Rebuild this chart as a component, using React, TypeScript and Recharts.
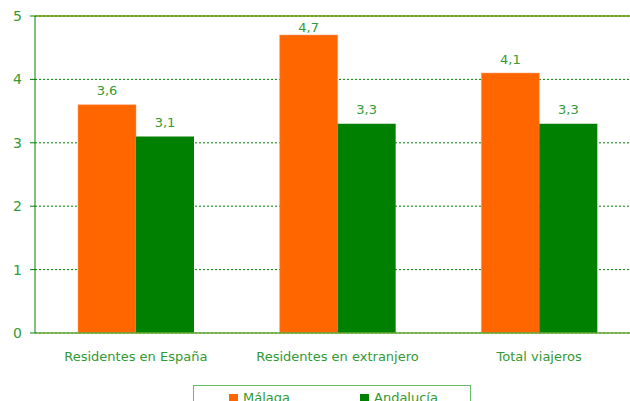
import React from 'react';
import { BarChart, Bar, XAxis, YAxis, CartesianGrid, LabelList, ReferenceLine } from 'recharts';

const categories = ['Residentes en España', 'Residentes en extranjero', 'Total viajeros'];
const malaga = [3.6, 4.7, 4.1];
const andalucia = [3.1, 3.3, 3.3];
const yTicks = [0, 1, 2, 3, 4, 5];
const seriesNames = ['Málaga', 'Andalucía'];
const seriesColors = ['#ff6600', '#008000'];

const data = categories.map((name, i) => ({ name, malaga: malaga[i], andalucia: andalucia[i] }));

const font = '"DejaVu Sans", Verdana, sans-serif';
const textColor = '#339933';
const fmt = (v: any) => String(v).replace('.', ',');

// value label above a bar, kept clear of the top border line
const ValueLabel = (props: any) => {
  const { x, y, width, value } = props;
  const ty = Math.max(y - 14, 27);
  return (
    <text x={x + width / 2} y={ty} textAnchor="middle" dominantBaseline="central" fill={textColor} fontSize={13} fontFamily={font}>
      {fmt(value)}
    </text>
  );
};

export default function App() {
  return (
    <div style={{ position: 'fixed', left: 0, top: 0, width: 630, height: 401, overflow: 'hidden', background: '#fff', fontFamily: font }}>
      <BarChart
        width={640}
        height={380}
        data={data}
        margin={{ top: 16, right: 0, left: 0, bottom: 0 }}
        barCategoryGap={43}
        barGap={0}
      >
        <CartesianGrid vertical={false} stroke="#008000" strokeDasharray="2 2" />
        <ReferenceLine y={5} stroke="#669900" strokeWidth={1.5} />
        <XAxis
          dataKey="name"
          height={47}
          tickLine={false}
          axisLine={{ stroke: '#66aa33', strokeWidth: 1.5 }}
          tick={{ fill: textColor, fontSize: 13, fontFamily: font }}
          tickMargin={13}
        />
        <YAxis
          width={35}
          domain={[0, 5]}
          ticks={yTicks}
          axisLine={{ stroke: '#008000' }}
          tickLine={{ stroke: '#008000' }}
          tickSize={5}
          tick={{ fill: textColor, fontSize: 14, fontFamily: font }}
          tickMargin={8}
        />
        <Bar dataKey="malaga" fill={seriesColors[0]} stroke="#ff9966" strokeWidth={0.5} isAnimationActive={false}>
          <LabelList dataKey="malaga" content={ValueLabel} />
        </Bar>
        <Bar dataKey="andalucia" fill={seriesColors[1]} isAnimationActive={false}>
          <LabelList dataKey="andalucia" content={ValueLabel} />
        </Bar>
      </BarChart>
      <div
        style={{
          position: 'absolute',
          left: 193,
          top: 385,
          width: 278,
          height: 30,
          border: '1.5px solid #66bb66',
          boxSizing: 'border-box',
        }}
      >
        {seriesNames.map((n, i) => (
          <div
            key={n}
            style={{
              position: 'absolute',
              left: i === 0 ? 35 : 166,
              top: 5,
              display: 'flex',
              alignItems: 'center',
              color: textColor,
              fontSize: 13,
              lineHeight: '14px',
            }}
          >
            <span style={{ display: 'inline-block', width: 9, height: 9, background: seriesColors[i], marginRight: 5 }} />
            {n}
          </div>
        ))}
      </div>
    </div>
  );
}
